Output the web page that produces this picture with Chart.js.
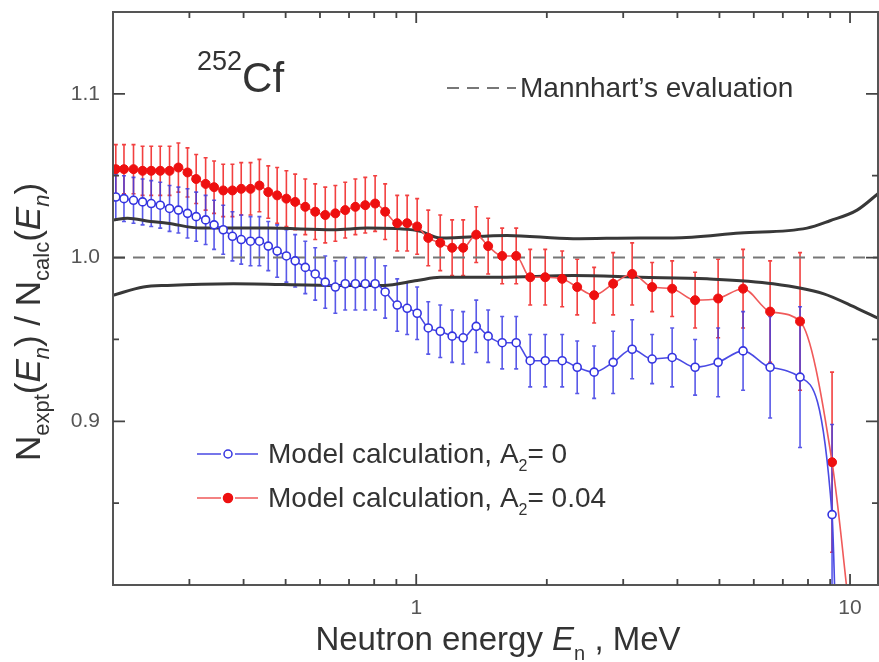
<!DOCTYPE html>
<html>
<head>
<meta charset="utf-8">
<script src="https://cdn.jsdelivr.net/npm/chart.js@4.4.0/dist/chart.umd.min.js"></script>
<style>
  html, body { margin: 0; padding: 0; background: #fff; }
  canvas { display: block; }
</style>
</head>
<body>
<canvas id="chart" width="879" height="662"></canvas>
<script>
// Neutron energy bins (MeV)
const energy = [
  0.203, 0.212, 0.223, 0.234, 0.245, 0.257, 0.270, 0.283, 0.297, 0.311,
  0.327, 0.342, 0.359, 0.377, 0.395, 0.415, 0.435, 0.456, 0.478, 0.502,
  0.526, 0.555, 0.585, 0.617, 0.651, 0.686, 0.724, 0.763, 0.804, 0.848,
  0.904, 0.953, 1.005, 1.066, 1.136, 1.210, 1.283, 1.375, 1.465, 1.578,
  1.700, 1.831, 1.983, 2.170, 2.350, 2.571, 2.844, 3.146, 3.498, 3.890,
  4.394, 4.965, 5.668, 6.543, 7.669, 9.090
];

// Ratio N_expt / N_calc, model with A2 = 0
const ratioA0 = [
  1.037, 1.036, 1.035, 1.034, 1.033, 1.032, 1.030, 1.029, 1.027, 1.025,
  1.023, 1.020, 1.017, 1.013, 1.011, 1.010, 1.010, 1.007, 1.004, 1.001,
  0.998, 0.994, 0.990, 0.985, 0.982, 0.984, 0.984, 0.984, 0.984, 0.979,
  0.971, 0.969, 0.966, 0.957, 0.955, 0.952, 0.951, 0.958, 0.952, 0.948,
  0.948, 0.937, 0.937, 0.937, 0.933, 0.930, 0.936, 0.944, 0.938, 0.939,
  0.933, 0.936, 0.943, 0.933, 0.927, 0.843
];
const errA0 = [
  0.014, 0.014, 0.014, 0.014, 0.014, 0.014, 0.014, 0.014, 0.015, 0.015,
  0.015, 0.015, 0.015, 0.015, 0.015, 0.015, 0.015, 0.015, 0.016, 0.016,
  0.016, 0.016, 0.016, 0.016, 0.016, 0.016, 0.016, 0.016, 0.016, 0.016,
  0.016, 0.016, 0.016, 0.016, 0.016, 0.016, 0.016, 0.016, 0.016, 0.016,
  0.016, 0.016, 0.016, 0.016, 0.016, 0.016, 0.019, 0.018, 0.015, 0.018,
  0.017, 0.021, 0.024, 0.031, 0.043, 0.055
];

// Ratio N_expt / N_calc, model with A2 = 0.04
const ratioA004 = [
  1.054, 1.054, 1.054, 1.053, 1.053, 1.053, 1.053, 1.055, 1.052, 1.048,
  1.045, 1.043, 1.041, 1.041, 1.042, 1.042, 1.044, 1.040, 1.038, 1.036,
  1.034, 1.031, 1.028, 1.026, 1.027, 1.029, 1.031, 1.032, 1.033, 1.028,
  1.021, 1.021, 1.019, 1.012, 1.009, 1.006, 1.006, 1.014, 1.007, 1.001,
  1.001, 0.988, 0.988, 0.987, 0.982, 0.977, 0.984, 0.990, 0.982, 0.981,
  0.974, 0.975, 0.981, 0.967, 0.961, 0.875
];
const errA004 = [
  0.015, 0.015, 0.015, 0.015, 0.015, 0.015, 0.015, 0.015, 0.015, 0.015,
  0.016, 0.016, 0.016, 0.016, 0.016, 0.016, 0.016, 0.016, 0.017, 0.017,
  0.017, 0.017, 0.017, 0.017, 0.017, 0.017, 0.017, 0.017, 0.017, 0.017,
  0.017, 0.017, 0.017, 0.017, 0.017, 0.017, 0.017, 0.017, 0.017, 0.017,
  0.017, 0.017, 0.017, 0.017, 0.017, 0.017, 0.019, 0.019, 0.015, 0.017,
  0.017, 0.024, 0.024, 0.031, 0.042, 0.055
];

// Model curves continue past the last bin
const tailA0E = [9.3];
const tailA0V = [0.76];
const tailA004E = [10.0];
const tailA004V = [0.78];

// Uncertainty band of Mannhart's evaluation
const upperE = [0.2, 0.216, 0.244, 0.267, 0.318, 0.454, 0.644, 0.771, 1.005, 1.136, 1.62, 2.30, 3.28, 3.91, 5.58, 7.96, 8.99, 10.38, 11.6];
const upperV = [1.023, 1.024, 1.022, 1.021, 1.018, 1.018, 1.017, 1.018, 1.0165, 1.012, 1.0135, 1.0115, 1.012, 1.012, 1.015, 1.018, 1.0225, 1.029, 1.039];
const lowerE = [0.2, 0.235, 0.267, 0.379, 0.644, 0.839, 1.005, 1.136, 1.56, 2.30, 3.28, 4.68, 6.65, 8.67, 10.38, 11.6];
const lowerV = [0.977, 0.982, 0.983, 0.984, 0.983, 0.983, 0.986, 0.988, 0.988, 0.989, 0.988, 0.987, 0.984, 0.978, 0.969, 0.963];

// Mannhart's evaluation (reference level)
const mannhartE = [0.2, 11.6];
const mannhartV = [1.0, 1.0];

// Axis ticks
const xMajor = [1, 10];
const xMinor = [0.3, 0.4, 0.5, 0.6, 0.7, 0.8, 0.9, 2, 3, 4, 5, 6, 7, 8, 9];
const yMajor = [0.9, 1.0, 1.1];
const yMinor = [0.85, 0.95, 1.05];

const FONT = '"Liberation Sans", Arial, Helvetica, sans-serif';
const BLUE = '#3434e0';
const BLUE_LINE = '#4a4ae4';
const BLUE_BAR = 'rgba(60,60,228,0.85)';
const RED = '#ee1010';
const RED_LINE = '#f05a5a';
const RED_BAR = 'rgba(240,30,30,0.85)';
const TEXT = '#333';

const pts = (xs, ys) => xs.map((x, i) => ({ x: x, y: ys[i] }));
const nPts = energy.length;

const errorBars = {
  id: 'errorBars',
  beforeDatasetsDraw(chart) {
    const { ctx, chartArea: a, scales: { x, y } } = chart;
    ctx.save();
    ctx.beginPath();
    ctx.rect(a.left, a.top, a.right - a.left, a.bottom - a.top);
    ctx.clip();
    const sets = [
      { v: ratioA004, e: errA004, c: RED_BAR },
      { v: ratioA0, e: errA0, c: BLUE_BAR }
    ];
    for (const s of sets) {
      ctx.strokeStyle = s.c;
      ctx.lineWidth = 1.6;
      energy.forEach((E, i) => {
        const px = x.getPixelForValue(E);
        const y1 = y.getPixelForValue(s.v[i] + s.e[i]);
        const y2 = y.getPixelForValue(s.v[i] - s.e[i]);
        ctx.beginPath();
        ctx.moveTo(px, y1); ctx.lineTo(px, y2);
        ctx.moveTo(px - 2, y1); ctx.lineTo(px + 2, y1);
        ctx.moveTo(px - 2, y2); ctx.lineTo(px + 2, y2);
        ctx.stroke();
      });
    }
    ctx.restore();
  }
};

function runsWidth(ctx, runs) {
  let w = 0;
  for (const r of runs) { ctx.font = r.f; w += ctx.measureText(r.t).width; }
  return w;
}
function drawRuns(ctx, runs, x, y) {
  for (const r of runs) {
    ctx.font = r.f;
    ctx.fillText(r.t, x, y + (r.dy || 0));
    x += ctx.measureText(r.t).width;
  }
}

const frameAndText = {
  id: 'frameAndText',
  afterDraw(chart) {
    const { ctx, chartArea: a, scales: { x, y } } = chart;
    ctx.save();
    // frame
    ctx.strokeStyle = '#555';
    ctx.lineWidth = 2;
    ctx.strokeRect(a.left, a.top, a.right - a.left, a.bottom - a.top);
    // inward ticks on all four sides
    ctx.strokeStyle = '#444';
    ctx.lineWidth = 1.8;
    const xt = (v, len) => {
      const px = x.getPixelForValue(v);
      ctx.beginPath();
      ctx.moveTo(px, a.bottom); ctx.lineTo(px, a.bottom - len);
      ctx.moveTo(px, a.top); ctx.lineTo(px, a.top + len);
      ctx.stroke();
    };
    const yt = (v, len) => {
      const py = y.getPixelForValue(v);
      ctx.beginPath();
      ctx.moveTo(a.left, py); ctx.lineTo(a.left + len, py);
      ctx.moveTo(a.right, py); ctx.lineTo(a.right - len, py);
      ctx.stroke();
    };
    xMajor.forEach(v => xt(v, 11));
    xMinor.forEach(v => xt(v, 6));
    yMajor.forEach(v => yt(v, 12));
    yMinor.forEach(v => yt(v, 6));

    ctx.fillStyle = TEXT;
    ctx.textBaseline = 'alphabetic';
    ctx.textAlign = 'left';

    // 252Cf label
    drawRuns(ctx, [{ t: '252', f: `27px ${FONT}`, dy: -22 }, { t: 'Cf', f: `42px ${FONT}` }], 197, 92);

    // x-axis title
    const xr = [
      { t: 'Neutron energy ', f: `33px ${FONT}` },
      { t: 'E', f: `italic 33px ${FONT}` },
      { t: 'n', f: `20px ${FONT}`, dy: 10 },
      { t: ' , MeV', f: `33px ${FONT}` }
    ];
    drawRuns(ctx, xr, 498 - runsWidth(ctx, xr) / 2, 650);

    // y-axis title (rotated)
    const M = `35px ${FONT}`, MI = `italic 35px ${FONT}`, S = `22px ${FONT}`, SI = `italic 22px ${FONT}`;
    const yr = [
      { t: 'N', f: M }, { t: 'expt', f: S, dy: 9 }, { t: '(', f: M }, { t: 'E', f: MI },
      { t: 'n', f: SI, dy: 9 }, { t: ') / N', f: M }, { t: 'calc', f: S, dy: 9 },
      { t: '(', f: M }, { t: 'E', f: MI }, { t: 'n', f: SI, dy: 9 }, { t: ')', f: M }
    ];
    ctx.save();
    ctx.translate(40, 322);
    ctx.rotate(-Math.PI / 2);
    drawRuns(ctx, yr, -runsWidth(ctx, yr) / 2, 0);
    ctx.restore();

    // legend: Mannhart's evaluation
    ctx.strokeStyle = '#777';
    ctx.lineWidth = 2;
    ctx.setLineDash([12, 8]);
    ctx.beginPath(); ctx.moveTo(447, 88); ctx.lineTo(516, 88); ctx.stroke();
    ctx.setLineDash([]);
    ctx.fillStyle = TEXT;
    drawRuns(ctx, [{ t: 'Mannhart\u2019s evaluation', f: `28px ${FONT}` }], 520, 97);

    // legend: model calculations
    const entry = (yc, line, mark, filled, value) => {
      ctx.strokeStyle = line;
      ctx.lineWidth = 1.6;
      ctx.beginPath();
      ctx.moveTo(197, yc); ctx.lineTo(221, yc);
      ctx.moveTo(235, yc); ctx.lineTo(258, yc);
      ctx.stroke();
      ctx.beginPath();
      ctx.arc(228, yc, filled ? 4.5 : 4, 0, Math.PI * 2);
      ctx.fillStyle = filled ? mark : '#fff';
      ctx.fill();
      ctx.strokeStyle = mark;
      ctx.lineWidth = 1.5;
      ctx.stroke();
      ctx.fillStyle = TEXT;
      drawRuns(ctx, [
        { t: 'Model calculation, A', f: `28px ${FONT}` },
        { t: '2', f: `16px ${FONT}`, dy: 8 },
        { t: '= ' + value, f: `28px ${FONT}` }
      ], 268, yc + 9);
    };
    entry(454, BLUE_LINE, BLUE, false, '0');
    entry(498, RED_LINE, RED, true, '0.04');
    ctx.restore();
  }
};

// keep the plot frame at fixed edges: no extra room for edge labels
const noEdgePadding = s => {
  s.paddingLeft = 0; s.paddingRight = 0; s.paddingTop = 0; s.paddingBottom = 0;
};

new Chart(document.getElementById('chart'), {
  type: 'line',
  data: {
    datasets: [
      {
        label: 'Model calculation, A2= 0',
        data: pts(energy.concat(tailA0E), ratioA0.concat(tailA0V)),
        borderColor: BLUE_LINE,
        borderWidth: 1.6,
        pointRadius: c => (c.dataIndex < nPts ? 4 : 0),
        pointBorderWidth: 1.6,
        pointBorderColor: BLUE,
        pointBackgroundColor: '#fff',
        cubicInterpolationMode: 'monotone',
        order: 0
      },
      {
        label: 'Model calculation, A2= 0.04',
        data: pts(energy.concat(tailA004E), ratioA004.concat(tailA004V)),
        borderColor: RED_LINE,
        borderWidth: 1.6,
        pointRadius: c => (c.dataIndex < nPts ? 4.5 : 0),
        pointBorderWidth: 1,
        pointBorderColor: RED,
        pointBackgroundColor: RED,
        cubicInterpolationMode: 'monotone',
        order: 1
      },
      {
        label: 'Upper bound',
        data: pts(upperE, upperV),
        borderColor: '#383838',
        borderWidth: 3,
        pointRadius: 0,
        cubicInterpolationMode: 'monotone',
        order: 2
      },
      {
        label: 'Lower bound',
        data: pts(lowerE, lowerV),
        borderColor: '#383838',
        borderWidth: 3,
        pointRadius: 0,
        cubicInterpolationMode: 'monotone',
        order: 3
      },
      {
        label: 'Mannhart\u2019s evaluation',
        data: pts(mannhartE, mannhartV),
        borderColor: '#777',
        borderWidth: 2,
        borderDash: [12, 8],
        pointRadius: 0,
        order: 4
      }
    ]
  },
  options: {
    responsive: false,
    animation: false,
    layout: { autoPadding: false, padding: { top: 12, right: 1, left: 0, bottom: 0 } },
    plugins: { legend: { display: false }, tooltip: { enabled: false } },
    scales: {
      x: {
        type: 'logarithmic',
        min: 0.2,
        max: 11.6,
        afterBuildTicks: s => { s.ticks = xMinor.concat(xMajor).sort((a, b) => a - b).map(v => ({ value: v })); },
        afterFit: s => { s.height = 77; noEdgePadding(s); },
        grid: { display: false, drawTicks: false },
        border: { display: false },
        ticks: {
          autoSkip: false,
          maxRotation: 0,
          padding: 11,
          color: '#555',
          font: { family: FONT, size: 21 },
          callback: v => (xMajor.includes(v) ? String(v) : '')
        }
      },
      y: {
        type: 'linear',
        min: 0.8,
        max: 1.15,
        afterBuildTicks: s => { s.ticks = yMinor.concat(yMajor).sort((a, b) => a - b).map(v => ({ value: v })); },
        afterFit: s => { s.width = 113; noEdgePadding(s); },
        grid: { display: false, drawTicks: false },
        border: { display: false },
        ticks: {
          autoSkip: false,
          padding: 13,
          color: '#555',
          font: { family: FONT, size: 21 },
          callback: v => (yMajor.some(m => Math.abs(m - v) < 1e-9) ? v.toFixed(1) : '')
        }
      }
    }
  },
  plugins: [errorBars, frameAndText]
});
</script>
</body>
</html>
